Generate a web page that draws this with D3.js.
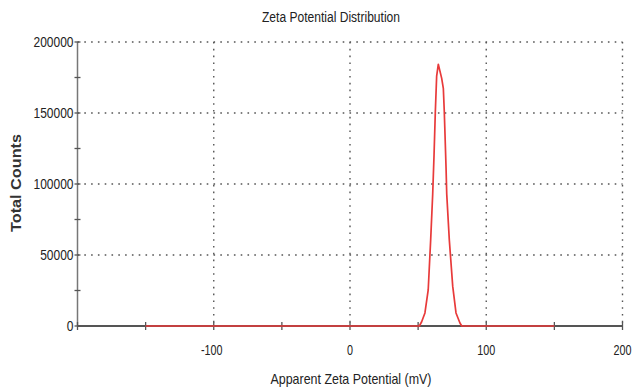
<!DOCTYPE html>
<html>
<head>
<meta charset="utf-8">
<script src="https://cdn.jsdelivr.net/npm/d3@7/dist/d3.min.js"></script>
<style>
  html, body { margin: 0; padding: 0; background: #fff; }
  svg { display: block; font-family: "Liberation Sans", Arial, sans-serif; }
</style>
</head>
<body>
<svg id="chart" width="636" height="390"></svg>
<script>
// ---- data ----
const potential = [-150, 50.9, 52.6, 55.0, 57.4, 59.2, 60.7, 61.7, 62.6, 63.6, 64.8,
                   67.3, 68.5, 69.2, 69.9, 70.5, 71.0, 72.9, 75.4, 77.8, 80.7, 82.0, 150];
const counts    = [0, 0, 3000, 9200, 25400, 60500, 92900, 121000, 150000, 176000, 184300,
                   174400, 167400, 150900, 129800, 111200, 92900, 60500, 27900, 9200, 2100, 0, 0];
const xMajorTicks = [-100, 0, 100, 200];
const xMinorTicks = [-150, -50, 50, 150];
const yMajorTicks = [0, 50000, 100000, 150000, 200000];
const yMinorTicks = [25000, 75000, 125000, 175000];
const titleText = "Zeta Potential Distribution";
const xTitle = "Apparent Zeta Potential (mV)";
const yTitle = "Total Counts";

const svg = d3.select("#chart");
const x = d3.scaleLinear().domain([-200, 200]).range([77.5, 622.5]);
const y = d3.scaleLinear().domain([0, 200000]).range([326, 42]);

const gridColor = "#555";
// horizontal grid
svg.append("g").selectAll("line").data(yMajorTicks.filter(d => d > 0)).join("line")
  .attr("x1", x(-200)).attr("x2", x(200))
  .attr("y1", d => y(d)).attr("y2", d => y(d))
  .attr("stroke", gridColor).attr("stroke-width", 1.4)
  .attr("stroke-dasharray", "1.6,5.2");
// vertical grid
svg.append("g").selectAll("line").data(xMajorTicks).join("line")
  .attr("x1", d => x(d)).attr("x2", d => x(d))
  .attr("y1", y(200000)).attr("y2", y(0))
  .attr("stroke", gridColor).attr("stroke-width", 1.4)
  .attr("stroke-dasharray", "1.6,5.2");

// axes
svg.append("line").attr("x1", x(-200)).attr("x2", x(-200))
  .attr("y1", y(200000)).attr("y2", y(0))
  .attr("stroke", "#777").attr("stroke-width", 1.5);
svg.append("line").attr("x1", x(-200)).attr("x2", x(200))
  .attr("y1", y(0)).attr("y2", y(0))
  .attr("stroke", "#555").attr("stroke-width", 2);

// y ticks
svg.append("g").selectAll("line").data(yMajorTicks.concat(yMinorTicks)).join("line")
  .attr("x1", x(-200) - 3).attr("x2", x(-200) + 3)
  .attr("y1", d => y(d)).attr("y2", d => y(d))
  .attr("stroke", "#555").attr("stroke-width", 1.3);
// x ticks
svg.append("g").selectAll("line").data(xMajorTicks.concat(xMinorTicks).concat([-200])).join("line")
  .attr("x1", d => x(d)).attr("x2", d => x(d))
  .attr("y1", y(0) - 4).attr("y2", y(0) + 4)
  .attr("stroke", "#555").attr("stroke-width", 1.3);

// data line
const line = d3.line().x((d, i) => x(potential[i])).y(d => y(d));
svg.append("path").datum(counts).attr("d", line)
  .attr("fill", "none").attr("stroke", "#e83a3a").attr("stroke-width", 1.7)
  .attr("stroke-linejoin", "round");

// y tick labels
svg.append("g").selectAll("text").data(yMajorTicks).join("text")
  .attr("transform", d => `translate(${x(-200) - 4},${y(d) + 5}) scale(0.8,1)`)
  .attr("text-anchor", "end").attr("font-size", 15).attr("fill", "#222")
  .text(d => String(d));
// x tick labels
svg.append("g").selectAll("text").data([-100, 0, 100, 200]).join("text")
  .attr("transform", d => `translate(${x(d) + (d < 0 ? -2 : 0)},${355}) scale(0.72,1)`)
  .attr("text-anchor", "middle").attr("font-size", 15).attr("fill", "#222")
  .text(d => d < 0 ? "-" + Math.abs(d) : String(d));

// titles
svg.append("text").attr("x", 331).attr("y", 22).attr("text-anchor", "middle")
  .attr("font-size", 14).attr("fill", "#222")
  .attr("textLength", 138).attr("lengthAdjust", "spacingAndGlyphs").text(titleText);
svg.append("text").attr("x", 351).attr("y", 384).attr("text-anchor", "middle")
  .attr("font-size", 15).attr("fill", "#222")
  .attr("textLength", 161).attr("lengthAdjust", "spacingAndGlyphs").text(xTitle);
svg.append("text").attr("transform", "translate(21,183) rotate(-90)")
  .attr("text-anchor", "middle").attr("font-size", 15).attr("font-weight", "bold").attr("fill", "#333")
  .attr("textLength", 98).attr("lengthAdjust", "spacingAndGlyphs")
  .text(yTitle);
</script>
</body>
</html>
